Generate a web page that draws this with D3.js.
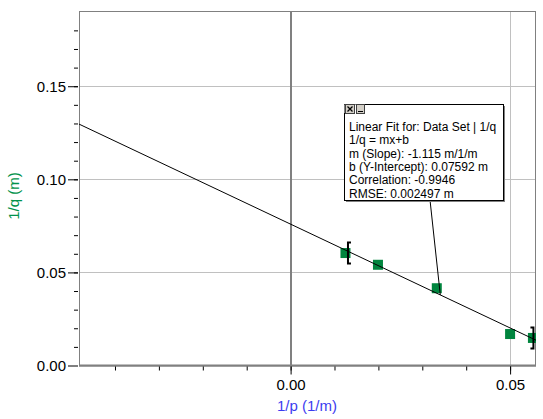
<!DOCTYPE html>
<html>
<head>
<meta charset="utf-8">
<script src="https://cdn.jsdelivr.net/npm/d3@7"></script>
<style>
  body { margin: 0; background: #fff; }
  svg { display: block; font-family: "Liberation Sans", Arial, sans-serif; }
</style>
</head>
<body>
<svg class="chart" width="543" height="419"></svg>
<script>
// data
var invP = [0.0125, 0.0199, 0.0333, 0.0500, 0.0552];
var invQ = [0.0604, 0.0541, 0.0415, 0.0169, 0.0148];
var xMajor = [0.00, 0.05];
var yMajor = [0.00, 0.05, 0.10, 0.15];
var fitSlope = -1.115, fitIntercept = 0.07592;
var fitText = ["Linear Fit for: Data Set | 1/q",
               "1/q = mx+b",
               "m (Slope): -1.115 m/1/m",
               "b (Y-Intercept): 0.07592 m",
               "Correlation: -0.9946",
               "RMSE: 0.002497 m"];

var svg = d3.select("svg.chart"),
    pLeft = 79, pRight = 536, pTop = 11, pBottom = 365.5;

var x = d3.scaleLinear().domain([-0.0482, 0.0559]).range([pLeft, pRight]);
var y = d3.scaleLinear().domain([0, 0.1904]).range([pBottom, pTop]);

var xMinor = d3.range(-0.04, 0.0551, 0.01).map(function(d){ return +d.toFixed(2); });
var yMinor = d3.range(0.01, 0.19, 0.01).map(function(d){ return +d.toFixed(2); });

svg.append("defs").append("clipPath").attr("id", "plot")
  .append("rect").attr("x", pLeft).attr("y", pTop)
  .attr("width", pRight - pLeft).attr("height", pBottom - pTop);

// grid
svg.append("g").selectAll("line").data(yMajor.slice(1)).enter().append("line")
    .attr("x1", pLeft).attr("x2", pRight)
    .attr("y1", function(d){ return Math.round(y(d)) + 0.5; })
    .attr("y2", function(d){ return Math.round(y(d)) + 0.5; })
    .attr("stroke", "#c0c0c0");
svg.append("line")
    .attr("x1", Math.round(x(0.05)) + 0.5).attr("x2", Math.round(x(0.05)) + 0.5)
    .attr("y1", pTop).attr("y2", pBottom).attr("stroke", "#c0c0c0");
// zero axis
svg.append("line")
    .attr("x1", Math.round(x(0))).attr("x2", Math.round(x(0)))
    .attr("y1", pTop).attr("y2", pBottom).attr("stroke", "#808080").attr("stroke-width", 2);

// frame
svg.append("rect").attr("x", pLeft + 0.5).attr("y", pTop + 0.5)
    .attr("width", pRight - pLeft - 1).attr("height", pBottom - pTop)
    .attr("fill", "none").attr("stroke", "#808080");
svg.append("line").attr("x1", pLeft).attr("x2", pRight)
    .attr("y1", pBottom).attr("y2", pBottom).attr("stroke", "#808080").attr("stroke-width", 2);

// axes
var xAxis = svg.append("g").attr("transform", "translate(0," + (pBottom + 1) + ")");
xAxis.call(d3.axisBottom(x).tickValues(xMinor).tickSize(4).tickFormat(""));
xAxis.append("g").call(d3.axisBottom(x).tickValues(xMajor).tickSize(8).tickPadding(5).tickFormat(d3.format(".2f")));
xAxis.selectAll(".domain").remove();
xAxis.selectAll("text").attr("fill", "#000").attr("font-size", 15).attr("font-family", "Liberation Sans, Arial");
xAxis.selectAll("line").attr("stroke", "#000");

var yAxis = svg.append("g").attr("transform", "translate(" + (pLeft - 1) + ",0)");
yAxis.call(d3.axisLeft(y).tickValues(yMinor).tickSize(4).tickFormat(""));
yAxis.append("g").call(d3.axisLeft(y).tickValues(yMajor).tickSize(10).tickPadding(2).tickFormat(d3.format(".2f")));
yAxis.selectAll(".domain").remove();
yAxis.selectAll("text").attr("fill", "#000").attr("font-size", 15).attr("font-family", "Liberation Sans, Arial");
yAxis.selectAll("line").attr("stroke", "#000");

// axis titles
svg.append("text").attr("x", 307).attr("y", 411).attr("text-anchor", "middle")
    .attr("font-size", 15).attr("fill", "#3c3cf0").text("1/p (1/m)");
svg.append("text").attr("transform", "translate(19,196) rotate(-90)").attr("text-anchor", "middle")
    .attr("font-size", 15).attr("fill", "#00924a").text("1/q (m)");

// data points
var pts = invP.map(function(d, i){ return {x: d, y: invQ[i]}; });
var plot = svg.append("g").attr("clip-path", "url(#plot)");
plot.selectAll("rect.pt").data(pts).enter().append("rect")
    .attr("class", "pt")
    .attr("x", function(d){ return x(d.x) - 5; })
    .attr("y", function(d){ return y(d.y) - 5; })
    .attr("width", 10).attr("height", 10)
    .attr("fill", "#00853e");

// fit line
plot.append("line")
    .attr("x1", x(x.domain()[0])).attr("y1", y(fitSlope * x.domain()[0] + fitIntercept))
    .attr("x2", x(x.domain()[1])).attr("y2", y(fitSlope * x.domain()[1] + fitIntercept))
    .attr("stroke", "#000").attr("stroke-width", 1);

// range brackets
function bracket(px, py, dir){
  var h = 10.5;
  svg.append("path")
    .attr("d", "M" + (px + dir * 3) + "," + (py - h) + "H" + px + "V" + (py + h) + "H" + (px + dir * 3))
    .attr("fill", "none").attr("stroke", "#000").attr("stroke-width", 2);
}
bracket(x(pts[0].x) + 2.5, y(pts[0].y), 1);
bracket(x(pts[4].x) + 0.5, y(pts[4].y), -1);

// annotation
var anchorX = 0.0341;
var bx = 344, by = 104, bw = 159, bh = 96;
svg.append("line")
    .attr("x1", 430).attr("y1", by + bh)
    .attr("x2", x(anchorX)).attr("y2", y(fitSlope * anchorX + fitIntercept))
    .attr("stroke", "#000");
svg.append("rect").attr("x", bx + 2).attr("y", by + 2).attr("width", bw).attr("height", bh)
    .attr("fill", "#808080");
svg.append("rect").attr("x", bx + 0.5).attr("y", by + 0.5).attr("width", bw).attr("height", bh)
    .attr("fill", "#fff").attr("stroke", "#000");
// small window buttons
svg.append("rect").attr("x", bx + 0.5).attr("y", by + 0.5).attr("width", 20).attr("height", 9)
    .attr("fill", "#fff").attr("stroke", "none");
svg.append("rect").attr("x", bx + 1.5).attr("y", by + 0.5).attr("width", 9).attr("height", 9)
    .attr("fill", "#d4d0c8").attr("stroke", "#404040");
svg.append("path").attr("d", "M" + (bx + 3.5) + "," + (by + 2.5) + "l5,5M" + (bx + 8.5) + "," + (by + 2.5) + "l-5,5")
    .attr("stroke", "#000").attr("stroke-width", 1.3);
svg.append("rect").attr("x", bx + 12.5).attr("y", by + 0.5).attr("width", 8).attr("height", 9)
    .attr("fill", "#d4d0c8").attr("stroke", "#404040");
svg.append("line").attr("x1", bx + 14).attr("x2", bx + 19).attr("y1", by + 7.5).attr("y2", by + 7.5)
    .attr("stroke", "#000");
svg.append("line").attr("x1", bx + 0.5).attr("x2", bx + 0.5).attr("y1", by + 9).attr("y2", by + bh)
    .attr("stroke", "#000");

svg.append("g").selectAll("text").data(fitText).enter().append("text")
    .attr("x", bx + 5).attr("y", function(d, i){ return 131 + i * 13.3; })
    .attr("font-size", 12).attr("fill", "#000")
    .text(function(d){ return d; });
</script>
</body>
</html>
